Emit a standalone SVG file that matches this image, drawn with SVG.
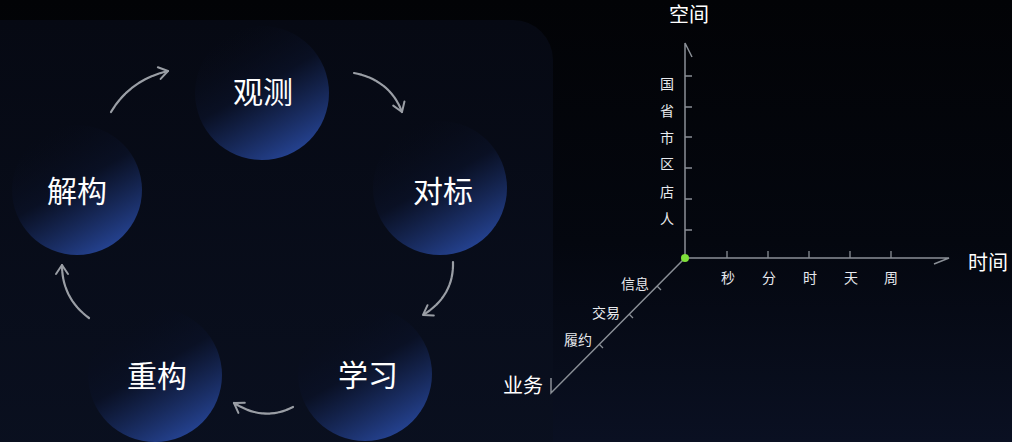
<svg xmlns="http://www.w3.org/2000/svg" width="1012" height="442" viewBox="0 0 1012 442">
  <defs>
    <linearGradient id="bg" x1="0" y1="0" x2="0" y2="1">
      <stop offset="0" stop-color="#020306"/>
      <stop offset="0.55" stop-color="#04070f"/>
      <stop offset="1" stop-color="#0a1022"/>
    </linearGradient>
    <linearGradient id="panel" x1="0" y1="0" x2="0" y2="1">
      <stop offset="0" stop-color="#060913"/>
      <stop offset="1" stop-color="#0a1020"/>
    </linearGradient>
    <linearGradient id="ball" x1="0.22" y1="0.08" x2="0.72" y2="0.95">
      <stop offset="0" stop-color="#080c1a" stop-opacity="0"/>
      <stop offset="0.45" stop-color="#0a1126" stop-opacity="0.85"/>
      <stop offset="1" stop-color="#24418e"/>
    </linearGradient>
    <marker id="head" markerUnits="userSpaceOnUse" markerWidth="20" markerHeight="20" refX="0" refY="0" viewBox="-12 -10 14 20" orient="auto">
      <path d="M-9,-6 L0,0 L-9,6" fill="none" stroke="#9a9ea5" stroke-width="2" stroke-linecap="round" stroke-linejoin="round"/>
    </marker>
    <style>
      .node-circle { fill: url(#ball); }
      .node-label { font-family: "Noto Sans CJK SC", "Noto Sans", sans-serif; font-size: 30px; fill: #ffffff; text-anchor: middle; dominant-baseline: central; }
      .arrow { fill: none; stroke: #9a9ea5; stroke-width: 2.2; stroke-linecap: round; stroke-dasharray: 7 1; marker-end: url(#head); }
      .axis { fill: none; stroke: #8a8f96; stroke-width: 1.5; }
      .tick { fill: none; stroke: #8a8f96; stroke-width: 1.3; }
      .axis-title { font-family: "Noto Sans CJK SC", "Noto Sans", sans-serif; font-size: 20px; fill: #ffffff; text-anchor: middle; dominant-baseline: central; }
      .axis-label { font-family: "Noto Sans CJK SC", "Noto Sans", sans-serif; font-size: 14px; fill: #e8eaee; text-anchor: middle; dominant-baseline: central; }
    </style>
  </defs>

  <rect x="0" y="0" width="1012" height="442" fill="url(#bg)"/>
  <rect x="-40" y="20" width="593" height="460" rx="40" ry="40" fill="url(#panel)"/>

  <g id="node-guance">
    <circle class="node-circle" cx="262" cy="93" r="67"/>
    <text class="node-label" x="263" y="90">观测</text>
  </g>
  <g id="node-duibiao">
    <circle class="node-circle" cx="440" cy="188" r="67"/>
    <text class="node-label" x="443" y="189">对标</text>
  </g>
  <g id="node-xuexi">
    <circle class="node-circle" cx="365" cy="374" r="67"/>
    <text class="node-label" x="368" y="373">学习</text>
  </g>
  <g id="node-chonggou">
    <circle class="node-circle" cx="155" cy="375" r="67"/>
    <text class="node-label" x="157" y="374">重构</text>
  </g>
  <g id="node-jiegou">
    <circle class="node-circle" cx="77" cy="190" r="65"/>
    <text class="node-label" x="77" y="189">解构</text>
  </g>

  <g id="connectors">
    <path class="arrow" d="M111,112 Q130,80 168,71"/>
    <path class="arrow" d="M354,73 Q390,80 402,112"/>
    <path class="arrow" d="M453,262 Q454,296 423,315"/>
    <path class="arrow" d="M293,407 Q264,422 234,403"/>
    <path class="arrow" d="M89,318 Q62,298 62,265"/>
  </g>

  <g id="axes">
    <path class="axis" d="M685,258 V43 L692,57"/>
    <path class="axis" d="M685,258 H949 L934,264"/>
    <path class="axis" d="M685,258 L551,393 V378"/>
    <path class="tick" d="M685,76 h7 M685,107 h7 M685,137 h7 M685,168 h7 M685,199 h7 M685,230 h7"/>
    <path class="tick" d="M727,258 v-7 M768,258 v-7 M809,258 v-7 M850,258 v-7 M891,258 v-7"/>
    <path class="tick" d="M657,286 l4,4 M629,314 l4,4 M599,344 l4,4"/>
    <circle cx="685" cy="258" r="4" fill="#7fe03a"/>
  </g>

  <g id="axis-labels">
    <text class="axis-title" x="689" y="13">空间</text>
    <text class="axis-title" x="988" y="261">时间</text>
    <text class="axis-title" x="523" y="384">业务</text>
    <text class="axis-label" x="667" y="83">国</text>
    <text class="axis-label" x="667" y="110">省</text>
    <text class="axis-label" x="667" y="137">市</text>
    <text class="axis-label" x="667" y="163">区</text>
    <text class="axis-label" x="667" y="191">店</text>
    <text class="axis-label" x="667" y="218">人</text>
    <text class="axis-label" x="728" y="277">秒</text>
    <text class="axis-label" x="769" y="277">分</text>
    <text class="axis-label" x="810" y="277">时</text>
    <text class="axis-label" x="851" y="277">天</text>
    <text class="axis-label" x="891" y="277">周</text>
    <text class="axis-label" x="635" y="283">信息</text>
    <text class="axis-label" x="606" y="312">交易</text>
    <text class="axis-label" x="578" y="339">履约</text>
  </g>
</svg>
